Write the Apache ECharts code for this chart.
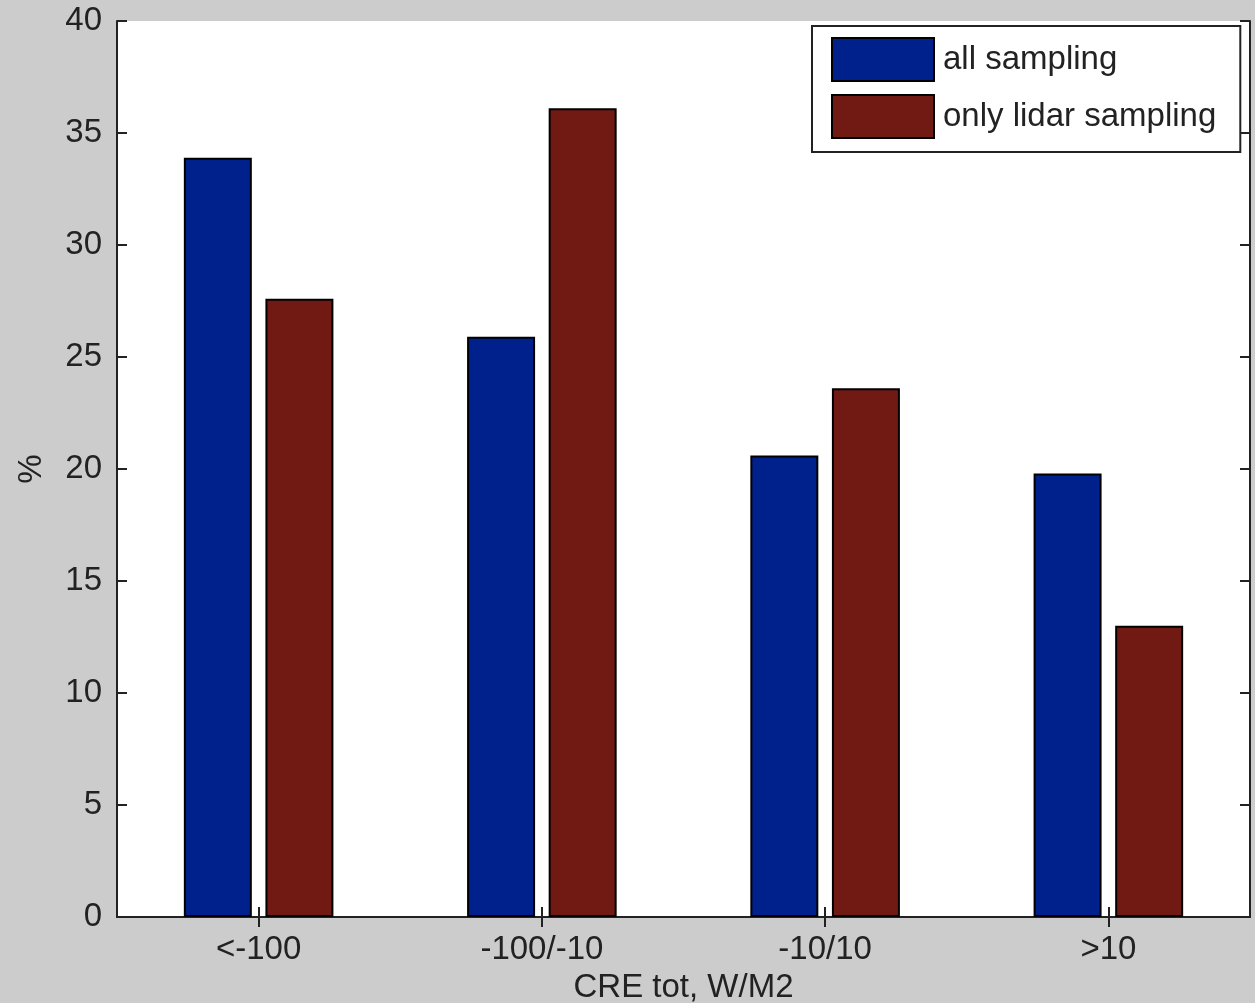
<!DOCTYPE html>
<html>
<head>
<meta charset="utf-8">
<title>CRE tot distribution</title>
<script src="https://cdn.jsdelivr.net/npm/echarts@6/dist/echarts.min.js"></script>
<style>
  html, body { margin: 0; padding: 0; background: #cccccc; }
  #chart { width: 1255px; height: 1003px; }
</style>
</head>
<body>
<div id="chart"></div>
<script>
// CRE tot bins (W/M2) and the share of cases in each bin, in %
const categories = ['<-100', '-100/-10', '-10/10', '>10'];
const allSampling = [33.9, 25.9, 20.6, 19.8];
const lidarSampling = [27.6, 36.1, 23.6, 13.0];
const yTicks = { min: 0, max: 40, interval: 5 };

const FONT = '"Liberation Sans", Arial, sans-serif';
const INK = '#222222';
const FS = 33;

const chart = echarts.init(document.getElementById('chart'), null, { renderer: 'canvas' });

const axisLine = { show: true, lineStyle: { color: INK, width: 2 } };
const axisTickIn = { show: true, inside: true, length: 10, lineStyle: { color: INK, width: 2 } };

chart.setOption({
  backgroundColor: '#cccccc',
  animation: false,
  textStyle: { fontFamily: FONT },
  grid: {
    left: 117, top: 21, right: 5, bottom: 86,
    outerBoundsMode: 'none',
    containLabel: false,
    show: true, backgroundColor: '#ffffff', borderWidth: 0
  },
  legend: {
    orient: 'vertical',
    left: 812, top: 26,
    icon: 'rect',
    itemWidth: 102, itemHeight: 43, itemGap: 12,
    padding: [11, 24, 13, 19],
    backgroundColor: '#ffffff',
    borderColor: INK, borderWidth: 2,
    borderRadius: 0,
    textStyle: { fontSize: FS, color: INK, fontFamily: FONT, padding: [0, 0, 0, 4] },
    itemStyle: { borderColor: '#000000', borderWidth: 2 },
    data: ['all sampling', 'only lidar sampling']
  },
  xAxis: [
    {
      type: 'category', data: categories, position: 'bottom',
      axisLine, axisTick: Object.assign({ alignWithLabel: true, interval: 0 }, axisTickIn),
      axisLabel: { fontSize: FS, color: INK, margin: 16, interval: 0 },
      name: 'CRE tot, W/M2', nameLocation: 'middle', nameGap: 54,
      nameTextStyle: { fontSize: FS, color: INK },
      splitLine: { show: false }
    },
    {
      type: 'category', data: categories, position: 'top',
      axisLine, axisTick: Object.assign({ alignWithLabel: true, interval: 0 }, axisTickIn),
      axisLabel: { show: false }, splitLine: { show: false }
    }
  ],
  yAxis: [
    {
      type: 'value', min: yTicks.min, max: yTicks.max, interval: yTicks.interval,
      position: 'left',
      axisLine, axisTick: axisTickIn,
      axisLabel: { fontSize: FS, color: INK, margin: 15 },
      splitLine: { show: false },
      name: '%', nameLocation: 'middle', nameGap: 69,
      nameTextStyle: { fontSize: FS, color: INK }
    },
    {
      type: 'value', min: yTicks.min, max: yTicks.max, interval: yTicks.interval,
      position: 'right',
      axisLine, axisTick: axisTickIn,
      axisLabel: { show: false }, splitLine: { show: false }
    }
  ],
  series: [
    {
      name: 'all sampling', type: 'bar', data: allSampling,
      barWidth: '24%', barGap: '20%',
      itemStyle: { color: '#00218C', borderColor: '#000000', borderWidth: 2 }
    },
    {
      name: 'only lidar sampling', type: 'bar', data: lidarSampling,
      barWidth: '24%', barGap: '20%',
      itemStyle: { color: '#711A14', borderColor: '#000000', borderWidth: 2 }
    }
  ]
});
</script>
</body>
</html>
